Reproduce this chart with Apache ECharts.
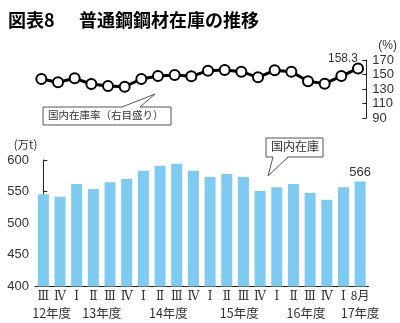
<!DOCTYPE html>
<html>
<head>
<meta charset="utf-8">
<script src="https://cdn.jsdelivr.net/npm/echarts@6/dist/echarts.min.js"></script>
<style>
html,body{margin:0;padding:0;background:#fff;}
#c{width:400px;height:323px;}
</style>
</head>
<body>
<div id="c"></div>
<script>
// ---- data ----
const categories = ['Ⅲ','Ⅳ','Ⅰ','Ⅱ','Ⅲ','Ⅳ','Ⅰ','Ⅱ','Ⅲ','Ⅳ','Ⅰ','Ⅱ','Ⅲ','Ⅳ','Ⅰ','Ⅱ','Ⅲ','Ⅳ','Ⅰ','8月'];
const inventory = [546,542,562,554,565,570,583,591,594,583,573,578,573,551,557,562,548,537,557,566];
const ratio = [143.8,139.2,144.7,136.9,134.1,133.2,143.8,147.9,149.3,147.5,155.3,156.2,153.9,146.1,155.7,153.9,140.6,137.4,147.9,158.3];
const yearLabels = ['12年度','13年度','14年度','15年度','16年度','17年度'];
const yearLabelAt = [0.5,3.5,7.5,11.75,15.75,19];
const leftTicks = [400,450,500,550,600];
const rightTicks = [90,110,130,150,170];

const TXT = '#333';
const JP = '"Noto Sans CJK JP", sans-serif';
const NUM = '"Liberation Sans", Arial, sans-serif';
const NARROW = '"Liberation Sans Narrow", "Liberation Sans", Arial, sans-serif';
const ROMAN = '"DejaVu Serif", "Liberation Serif", "Noto Sans CJK JP", serif';

const chart = echarts.init(document.getElementById('c'), null, {renderer:'canvas'});

const option = {
  animation: false,
  backgroundColor: '#fff',
  title: [
    {text: '図表8', left: 3, top: 6, textStyle: {fontFamily: JP, fontSize: 18, fontWeight: 'bold', color: '#000'}},
    {text: '普通鋼鋼材在庫の推移', left: 74, top: 6, textStyle: {fontFamily: JP, fontSize: 18, fontWeight: 'bold', color: '#000'}}
  ],
  grid: [
    {left: 33, width: 338, top: 60, height: 58},
    {left: 35, width: 333.5, top: 160, height: 126.5}
  ],
  xAxis: [
    {type: 'category', gridIndex: 0, data: categories, show: false, boundaryGap: true},
    {type: 'category', gridIndex: 1, data: categories, boundaryGap: true,
     axisLine: {lineStyle: {color: '#222', width: 1}}, axisTick: {show: false},
     axisLabel: {interval: 0, margin: 4, fontSize: 12, color: TXT, fontFamily: ROMAN,
       formatter: function (v) { return /^[ⅠⅡⅢⅣ]$/.test(v) ? v : '{s|' + v + '}'; },
       rich: {s: {fontFamily: JP, fontSize: 12, color: TXT, lineHeight: 9}}}},
    {type: 'value', gridIndex: 1, min: -0.5, max: 19.5, interval: 0.25, position: 'bottom',
     axisLine: {show: false}, axisTick: {show: false}, splitLine: {show: false},
     axisLabel: {margin: 20, fontSize: 12.5, color: TXT, fontFamily: JP, showMinLabel: true, showMaxLabel: true,
       formatter: function (v) {
         for (let i = 0; i < yearLabelAt.length; i++) {
           if (Math.abs(v - yearLabelAt[i]) < 1e-6) return yearLabels[i];
         }
         return '';
       }}}
  ],
  yAxis: [
    {type: 'value', gridIndex: 0, position: 'right', min: rightTicks[0], max: rightTicks[rightTicks.length-1], interval: 20,
     name: '(%)', nameLocation: 'end', nameGap: 8,
     nameTextStyle: {align: 'left', padding: [0, 0, 0, 12], color: TXT, fontFamily: NUM, fontSize: 12},
     axisLine: {show: true, lineStyle: {color: '#222'}},
     axisTick: {show: true, inside: true, length: 4, lineStyle: {color: '#222'}},
     splitLine: {show: false},
     axisLabel: {margin: 6, color: TXT, fontFamily: NARROW, fontSize: 13}},
    {type: 'value', gridIndex: 1, position: 'left', min: leftTicks[0], max: leftTicks[leftTicks.length-1], interval: 50,
     name: '(万t)', nameLocation: 'end', nameGap: 10,
     nameTextStyle: {align: 'right', padding: [0, 6, 0, 0], color: TXT, fontFamily: JP, fontSize: 11.5},
     axisLine: {show: true, lineStyle: {color: '#222'}},
     axisTick: {show: true, inside: true, length: 4, lineStyle: {color: '#222'}},
     splitLine: {show: false},
     axisLabel: {margin: 6, color: TXT, fontFamily: NUM, fontSize: 13}}
  ],
  series: [
    {type: 'bar', xAxisIndex: 1, yAxisIndex: 1, data: inventory.map(function (v, i) {
        return i === inventory.length - 1 ? {value: v, label: {show: true}} : v;
      }),
     barWidth: 11, itemStyle: {color: '#7fcaf0'},
     label: {show: false, position: 'top', distance: 3, color: TXT, fontFamily: NUM, fontSize: 13}},
    {type: 'line', xAxisIndex: 0, yAxisIndex: 0, data: ratio.map(function (v, i) {
        return i === ratio.length - 1 ? {value: v, label: {show: true}} : v;
      }),
     symbol: 'circle', symbolSize: 10, showAllSymbol: true,
     lineStyle: {color: '#000', width: 3},
     itemStyle: {color: '#fff', borderColor: '#000', borderWidth: 2},
     label: {show: false, position: 'top', distance: 2, offset: [-15, 4], color: TXT, fontFamily: NUM, fontSize: 12}}
  ],
  graphic: [
    {type: 'polygon', shape: {points: [[43,107],[122,107],[155,94],[140,107],[171,107],[171,125],[43,125]]},
     style: {fill: '#fff', stroke: '#555', lineWidth: 1}, z: 10},
    {type: 'text', left: 48, top: 110, z: 11,
     style: {text: '国内在庫率（右目盛り）', fill: TXT, font: '10.5px "Noto Sans CJK JP", sans-serif'}},
    {type: 'polygon', shape: {points: [[266,138],[323,138],[323,157],[288,157],[268,176],[273,157],[266,157]]},
     style: {fill: '#fff', stroke: '#555', lineWidth: 1}, z: 10},
    {type: 'text', left: 271, top: 140, z: 11,
     style: {text: '国内在庫', fill: TXT, font: '12px "Noto Sans CJK JP", sans-serif'}}
  ]
};
chart.setOption(option);
</script>
</body>
</html>
